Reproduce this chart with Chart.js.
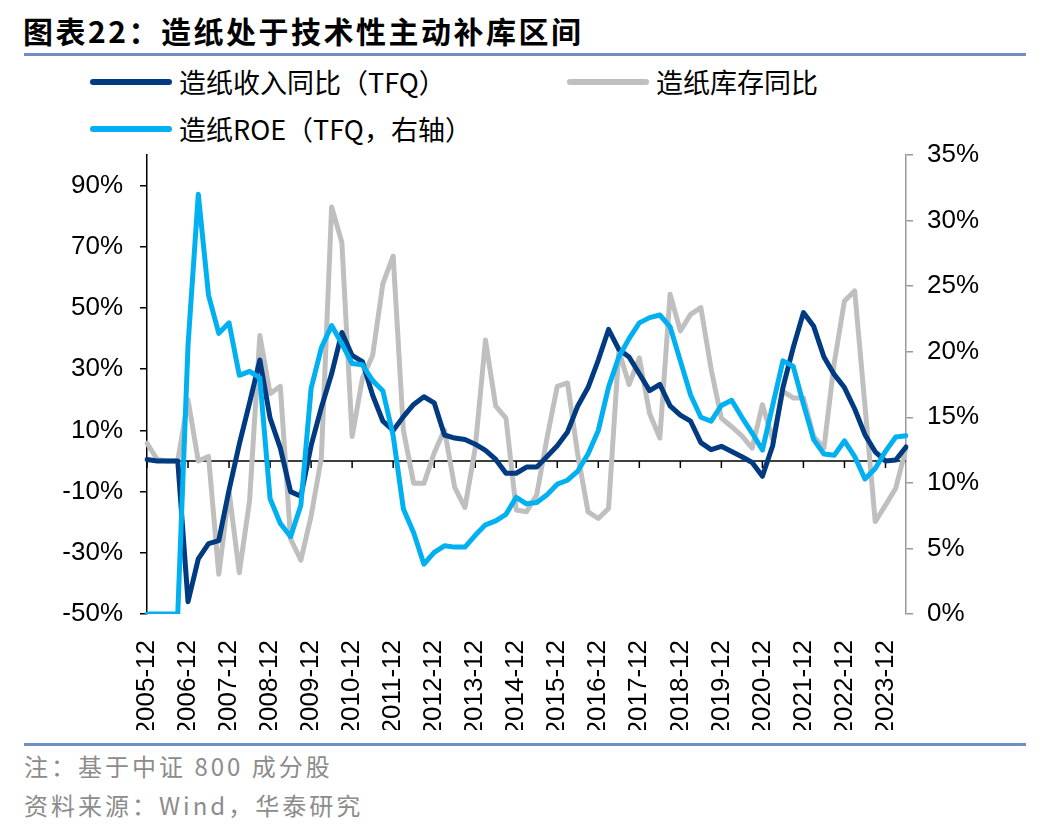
<!DOCTYPE html>
<html>
<head>
<meta charset="utf-8">
<script src="https://cdn.jsdelivr.net/npm/chart.js@4.4.0/dist/chart.umd.min.js"></script>
<style>
  body { margin: 0; background: #fff; width: 1048px; height: 828px; position: relative; overflow: hidden;
         font-family: "Noto Sans CJK SC", "Liberation Sans", sans-serif; }
  .title { position: absolute; left: 23px; top: 8px; font-size: 30px; font-weight: bold; letter-spacing: 2.5px; color: #000; }
  .rule { position: absolute; left: 24px; width: 1002px; height: 3px; background: #6f8fc2; }
  .legend { position: absolute; font-size: 27px; color: #000; display: flex; align-items: center; white-space: nowrap; }
  .legend i { display: inline-block; width: 82px; height: 6px; margin-right: 7px; border-radius: 3px; }
  .note { position: absolute; left: 24px; font-size: 24px; color: #8c8c8c; letter-spacing: 3px; }
  #wrap { position: absolute; left: 0; top: 130px; width: 1048px; height: 600px; }
</style>
</head>
<body>
<div class="title">图表22：造纸处于技术性主动补库区间</div>
<div class="rule" style="top:53px"></div>

<div class="legend" style="left:90px;top:62px"><i style="background:#003A80"></i>造纸收入同比（TFQ）</div>
<div class="legend" style="left:567px;top:62px"><i style="background:#BFBFBF"></i>造纸库存同比</div>
<div class="legend" style="left:90px;top:109px"><i style="background:#00B0F0"></i>造纸ROE（TFQ，右轴）</div>

<div id="wrap"><canvas id="c" width="1048" height="600"></canvas></div>

<div class="rule" style="top:743px"></div>
<div class="note" style="top:748px">注：基于中证 800 成分股</div>
<div class="note" style="top:787px">资料来源：Wind，华泰研究</div>

<script>
// quarterly, 2005-12 .. 2024-06
const quarterLabels = [];
for (let i = 0; i < 75; i++) {
  const month = ['12', '03', '06', '09'][i % 4];
  quarterLabels.push((2005 + Math.floor((i + 3) / 4)) + '-' + month);
}

const revenueYoy = [
  0.5, 0, 0, 0, -46, -32, -27, -26, -9.5, 5.5, 19, 33, 14, 4.2, -10, -11.5,
  5, 17.5, 28.5, 42, 34.5, 32.5, 21.5, 13, 10, 14.5, 18.5, 21, 19, 8.5, 7.5, 7,
  5.5, 3.5, 0.5, -4, -4, -2, -2, 1.5, 5, 9.5, 18, 24, 33, 43, 36.5, 34,
  28.5, 23, 25, 18, 15, 13, 6, 3.7, 4.8, 3.1, 1.4, -0.5, -5, 5, 24, 37,
  48.5, 44, 34, 28.3, 24, 17, 8.6, 3, 0, 0.3, 4.6
];

const inventoryYoy = [
  5.8, 0.5, 0, 0, 20, 0, 1.5, -37, -10, -36.5, -13, 41, 22, 24.4, -25.5, -32.4,
  -18, 1, 83, 71.4, 8, 27, 34.5, 58, 67, 10, -7.3, -7.3, 2.6, 10.2, -8.6, -15.2,
  4.2, 39.5, 17.9, 14, -16, -16.6, -11, 7.5, 24.4, 25.5, 2, -16.6, -18.8, -15.5, 36, 25,
  33.7, 15.5, 7.5, 54.5, 42.5, 47.9, 50.1, 30, 14, 11.2, 8.2, 4.2, 18.4, 7, 22.8, 20.6,
  20.6, 8, 4.2, 32, 52.3, 55.6, 18, -19.8, -14.4, -8.9, 4.2
];

const roe = [
  0, 0, 0, 0, 20.5, 32, 24.3, 21.4, 22.2, 18.2, 18.5, 18, 8.8, 6.9, 5.9, 8.3,
  17.2, 20.3, 22, 20.6, 19.1, 19, 17.8, 17, 13.6, 8, 6.2, 3.8, 4.7, 5.2, 5.1, 5.1,
  6, 6.8, 7.1, 7.6, 8.9, 8.4, 8.5, 9.1, 9.9, 10.2, 10.9, 12.2, 14, 17.3, 19.6, 21,
  22.2, 22.6, 22.8, 21.9, 19.3, 16.7, 15, 14.7, 15.9, 16.3, 15, 13.8, 12.5, 15.9, 19.3, 18.9,
  16, 13.3, 12.2, 12.1, 13.2, 12, 10.3, 11.1, 12.4, 13.5, 13.6
];

const leftTicks = [-50, -30, -10, 10, 30, 50, 70, 90];

const tickFont = { family: '"Liberation Sans", Arial, sans-serif', size: 26 };

// zero line of the left axis with year tick marks
const zeroLine = {
  id: 'zeroLine',
  beforeDatasetsDraw(chart) {
    const { ctx, chartArea, scales } = chart;
    const y0 = scales.y.getPixelForValue(0);
    ctx.save();
    ctx.strokeStyle = '#000';
    ctx.lineWidth = 1.5;
    ctx.beginPath();
    ctx.moveTo(chartArea.left, y0);
    ctx.lineTo(chartArea.right, y0);
    quarterLabels.forEach((l, i) => {
      if (i % 4 === 0) {
        const px = scales.x.getPixelForValue(i);
        ctx.moveTo(px, y0);
        ctx.lineTo(px, y0 + 7);
      }
    });
    ctx.stroke();
    ctx.restore();
  }
};

function fixSide(w) {
  return s => { s.width = w; s.paddingTop = 0; s.paddingBottom = 0; };
}

new Chart(document.getElementById('c'), {
  type: 'line',
  data: {
    labels: quarterLabels,
    datasets: [
      { label: '造纸ROE（TFQ，右轴）', data: roe, borderColor: '#00B0F0', backgroundColor: '#00B0F0', yAxisID: 'y1', order: 0 },
      { label: '造纸收入同比（TFQ）', data: revenueYoy, borderColor: '#003A80', backgroundColor: '#003A80', yAxisID: 'y', order: 1 },
      { label: '造纸库存同比', data: inventoryYoy, borderColor: '#BFBFBF', backgroundColor: '#BFBFBF', yAxisID: 'y', order: 2 }
    ]
  },
  options: {
    responsive: false,
    animation: false,
    devicePixelRatio: 1,
    layout: { padding: { top: 25, left: 0, right: 0, bottom: 0 } },
    elements: {
      line: { borderWidth: 5, tension: 0, borderJoinStyle: 'round', borderCapStyle: 'round', fill: false },
      point: { radius: 0 }
    },
    plugins: { legend: { display: false }, tooltip: { enabled: false } },
    scales: {
      x: {
        type: 'category',
        offset: false,
        grid: { display: false },
        border: { display: false },
        ticks: {
          autoSkip: false,
          maxRotation: 90,
          minRotation: 90,
          padding: 18,
          color: '#000',
          font: tickFont,
          callback: (v, i) => (i % 4 === 0 ? quarterLabels[i] : '')
        },
        afterFit: s => { s.height = 116; s.paddingLeft = 0; s.paddingRight = 0; }
      },
      y: {
        position: 'left',
        min: -50,
        max: 100,
        afterBuildTicks: s => { s.ticks = leftTicks.map(v => ({ value: v })); },
        grid: { drawOnChartArea: false, drawTicks: true, tickLength: 7, color: '#000', lineWidth: 1.5 },
        border: { display: true, color: '#000', width: 1.5 },
        ticks: { color: '#000', font: tickFont, padding: 17, callback: v => v + '%' },
        afterFit: fixSide(147)
      },
      y1: {
        position: 'right',
        min: 0,
        max: 35,
        grid: { drawOnChartArea: false, drawTicks: true, tickLength: 7, color: '#999', lineWidth: 1.5 },
        border: { display: true, color: '#999', width: 1.5 },
        ticks: { stepSize: 5, color: '#000', font: tickFont, padding: 14, callback: v => v + '%' },
        afterFit: fixSide(142)
      }
    }
  },
  plugins: [zeroLine]
});
</script>
</body>
</html>
